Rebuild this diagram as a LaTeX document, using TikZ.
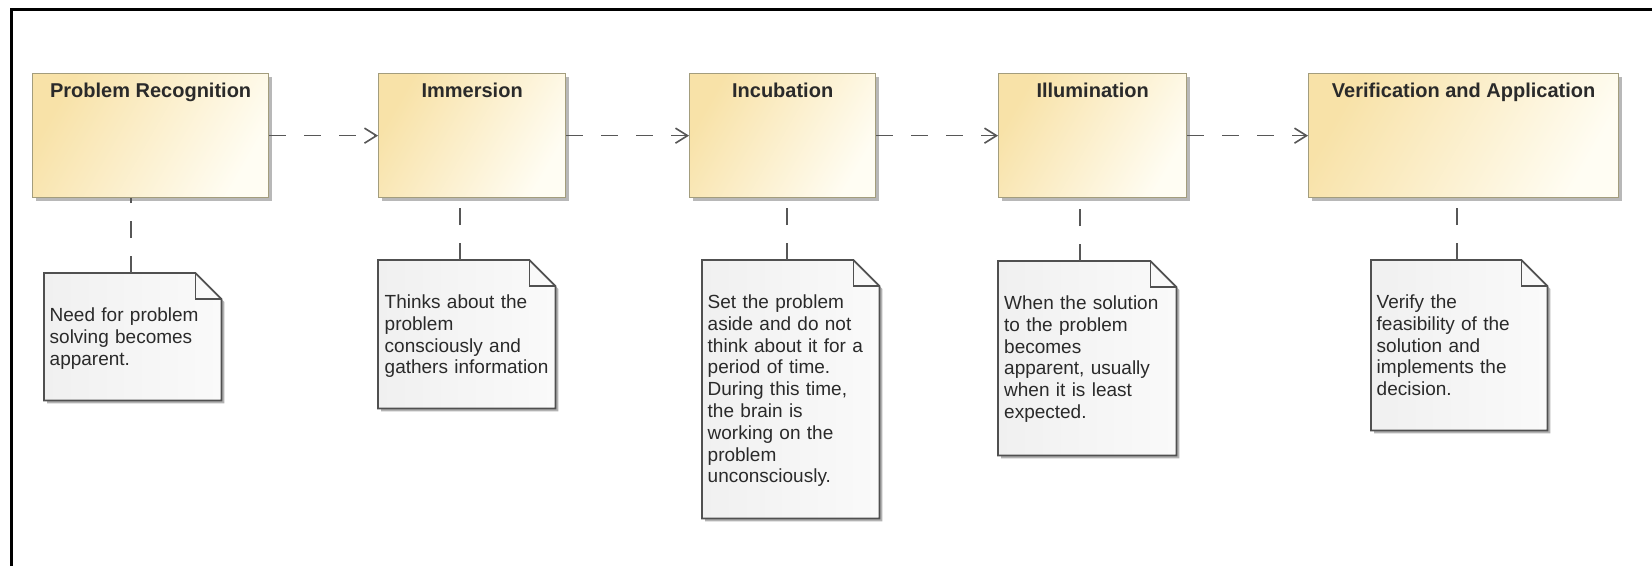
\documentclass[tikz,border=0pt]{standalone}
\usepackage{fontspec}
\setmainfont{Liberation Sans}
\usetikzlibrary{arrows.meta,shadows}

\definecolor{boxhi}{HTML}{F8E2A8}
\definecolor{boxlo}{HTML}{FFFDF3}
\definecolor{boxedge}{HTML}{A39D7D}
\definecolor{noteA}{HTML}{F0F0F0}
\definecolor{noteB}{HTML}{FAFAFA}
\definecolor{noteedge}{HTML}{505050}
\definecolor{linkgray}{HTML}{575757}
\definecolor{ink}{HTML}{2A2A2A}

\tikzset{
  stage/.style={draw=boxedge, line width=1.3pt, left color=boxhi, right color=boxlo,
    shading angle=60, anchor=north west, inner sep=0pt,
    general shadow={fill=black!28, shadow xshift=3pt, shadow yshift=-3pt}},
  stagetitle/.style={anchor=base, inner sep=0pt, text=ink,
    font=\fontsize{20}{24}\selectfont\bfseries},
  sheet/.style={anchor=north west, inner sep=0pt},
  paper/.style={draw=noteedge, line width=1.7pt, line join=miter,
    left color=noteA, right color=noteB,
    general shadow={fill=black!30, shadow xshift=3pt, shadow yshift=-3pt}},
  fold/.style={draw=noteedge, line width=1.7pt},
  notetext/.style={anchor=base west, inner sep=0pt, text=ink, text width=172pt,
    align=left, font=\fontsize{19}{21.8}\selectfont},
  flow/.style={draw=linkgray, line width=1.6pt, dash pattern=on 17pt off 18pt,
    -{Straight Barb[length=12pt,width=15pt]}},
  link/.style={draw=linkgray, line width=1.6pt, dash pattern=on 17.5pt off 17.5pt},
  frame/.style={draw=black, line width=2.6pt}
}

% note sheet outline with a folded top-right corner
\newcommand\paperoutline[1]{%
  \path[paper] (#1.north west) -- ([xshift=-26pt]#1.north east)
    -- ([yshift=-26pt]#1.north east) -- (#1.south east) -- (#1.south west) -- cycle;
  \draw[fold] ([xshift=-26pt]#1.north east) |- ([yshift=-26pt]#1.north east);
}

\begin{document}
\begin{tikzpicture}[x=1pt, y=-1pt]
\useasboundingbox[fill=white] (0,0) rectangle (1652,566);

% outer frame
\draw[frame] (11.5,566) -- (11.5,9.3) -- (1652,9.3);

% process stages
\node[stage, minimum width=236pt, minimum height=124pt] (b1) at (32,73) {};
\node[stage, minimum width=187pt, minimum height=124pt] (b2) at (378,73) {};
\node[stage, minimum width=186pt, minimum height=124pt] (b3) at (689,73) {};
\node[stage, minimum width=188pt, minimum height=124pt] (b4) at (998,73) {};
\node[stage, minimum width=310pt, minimum height=124pt] (b5) at (1308,73) {};

\node[stagetitle] (h1) at ([yshift=-24pt]b1.north) {Problem Recognition};
\node[stagetitle] (h2) at ([yshift=-24pt]b2.north) {Immersion};
\node[stagetitle] (h3) at ([yshift=-24pt]b3.north) {Incubation};
\node[stagetitle] (h4) at ([yshift=-24pt]b4.north) {Illumination};
\node[stagetitle] (h5) at ([yshift=-24pt]b5.north) {Verification and Application};

% flow between stages
\draw[flow] (b1.east) -- (b2.west);
\draw[flow] (b2.east) -- (b3.west);
\draw[flow] (b3.east) -- (b4.west);
\draw[flow] (b4.east) -- (b5.west);

% notes
\node[sheet, minimum width=177pt, minimum height=127pt] (n1) at (44,273) {};
\node[sheet, minimum width=177pt, minimum height=148pt] (n2) at (378,260) {};
\node[sheet, minimum width=177pt, minimum height=258pt] (n3) at (702,260) {};
\node[sheet, minimum width=178pt, minimum height=194pt] (n4) at (998,261) {};
\node[sheet, minimum width=176pt, minimum height=170pt] (n5) at (1371,260) {};

\paperoutline{n1}
\paperoutline{n2}
\paperoutline{n3}
\paperoutline{n4}
\paperoutline{n5}

\node[notetext] (t1) at ([shift={(5.5pt,-48.5pt)}]n1.north west)
  {Need for problem\\solving becomes\\apparent.};
\node[notetext] (t2) at ([shift={(6.5pt,-48.5pt)}]n2.north west)
  {Thinks about the\\problem\\consciously and\\gathers information};
\node[notetext] (t3) at ([shift={(5.5pt,-48.5pt)}]n3.north west)
  {Set the problem\\aside and do not\\think about it for a\\period of time.\\During this time,\\the brain is\\working on the\\problem\\unconsciously.};
\node[notetext] (t4) at ([shift={(6pt,-48.5pt)}]n4.north west)
  {When the solution\\to the problem\\becomes\\apparent, usually\\when it is least\\expected.};
\node[notetext] (t5) at ([shift={(5.5pt,-48.5pt)}]n5.north west)
  {Verify the\\feasibility of the\\solution and\\implements the\\decision.};

% anchors linking notes to stages
\draw[link] ([xshift=-1.5pt]n1.north) -- ([xshift=-1.5pt]n1.north |- b1.south);
\draw[link] ([xshift=-6.5pt]n2.north) -- ([xshift=-6.5pt]n2.north |- b2.south);
\draw[link] ([xshift=-3.5pt]n3.north) -- ([xshift=-3.5pt]n3.north |- b3.south);
\draw[link] ([xshift=-7pt]n4.north) -- ([xshift=-7pt]n4.north |- b4.south);
\draw[link] ([xshift=-2.5pt]n5.north) -- ([xshift=-2.5pt]n5.north |- b5.south);
\end{tikzpicture}
\end{document}
